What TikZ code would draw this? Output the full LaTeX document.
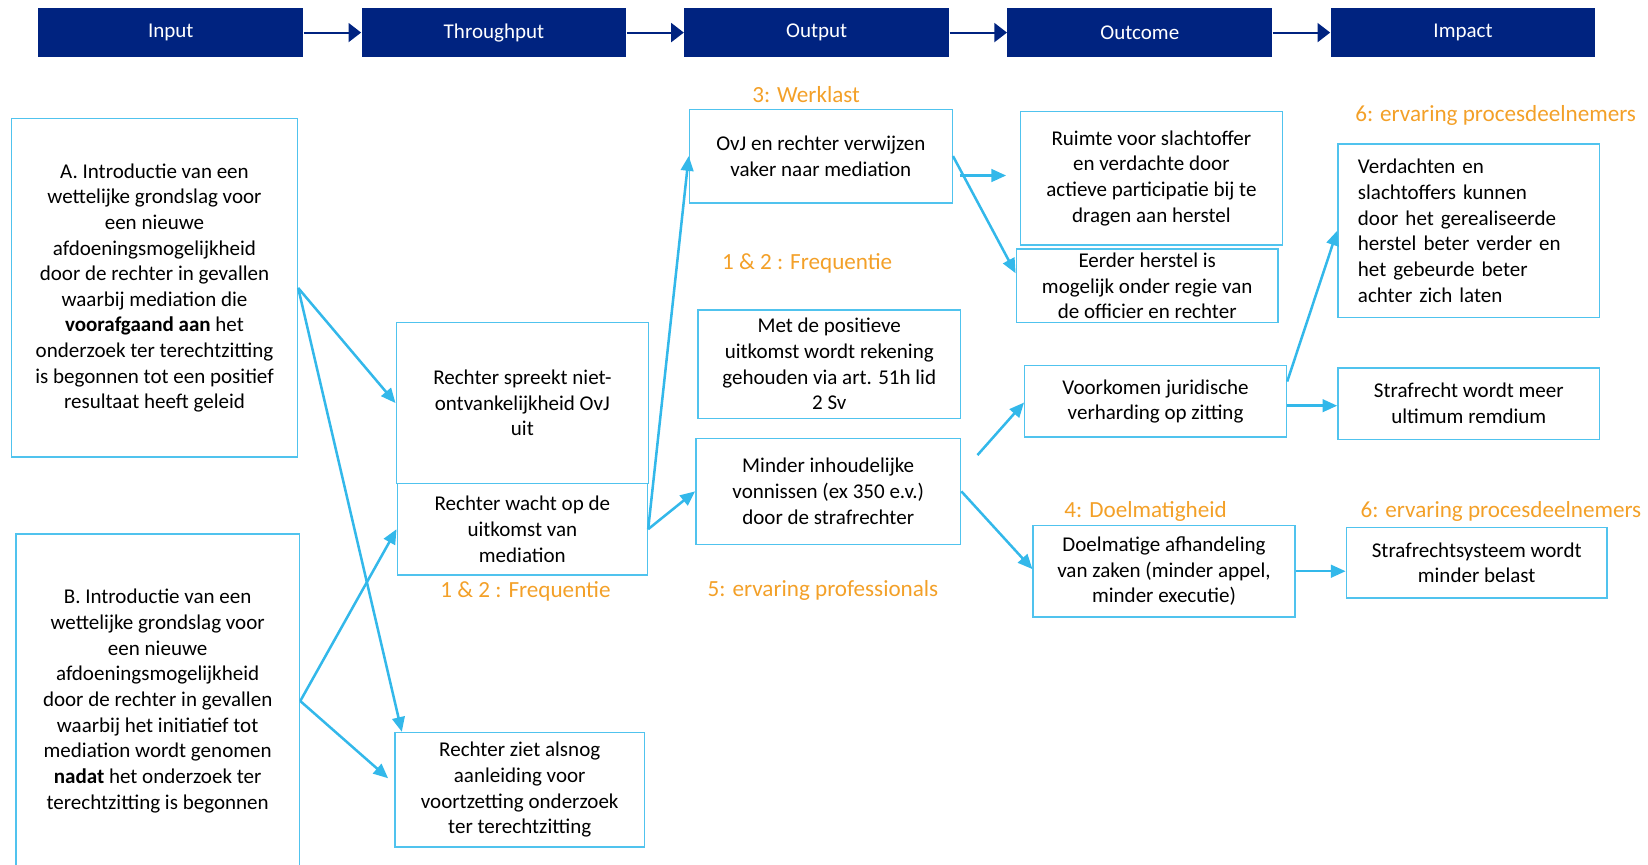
\documentclass[tikz,border=0pt]{standalone}
\usepackage{fontspec}
\setmainfont{Carlito}
\usetikzlibrary{arrows.meta,calc}
\definecolor{navy}{RGB}{0,35,128}
\definecolor{lblue}{RGB}{51,184,234}
\definecolor{bline}{RGB}{80,195,238}
\definecolor{orng}{RGB}{243,160,40}
\begin{document}
\begin{tikzpicture}[x=0.5pt,y=-0.5pt,
  hdr/.style={fill=navy, draw=none, text=white, minimum width=126pt, minimum height=23pt, inner sep=0pt, font=\fontsize{10}{12}\selectfont},
  bx/.style={draw=bline, line width=0.7pt, align=center, inner sep=0pt, fill=white, font=\fontsize{10}{12.2}\selectfont},
  lbl/.style={text=orng, inner sep=0pt, font=\fontsize{11}{13}\selectfont},
  conn/.style={draw=lblue, line width=1.2pt, -{Triangle[length=7pt,width=6pt]}},
  hconn/.style={draw=navy, line width=1pt, -{Triangle[length=6pt,width=9pt]}}]
\useasboundingbox (0,0) rectangle (1568,823);
% headers
\node[hdr] (hin) at (162.5,31) {Input};
\node[hdr] (hth) at (470,31) {Throughput};
\node[hdr] (hout) at (777,31) {Output};
\node[hdr] (hoc) at (1084.5,31) {Outcome};
\node[hdr] (him) at (1392,31) {Impact};
\draw[hconn] (hin) -- (hth);
\draw[hconn] (hth) -- (hout);
\draw[hconn] (hout) -- (hoc);
\draw[hconn] (hoc) -- (him);
% input
\node[bx, minimum width=136pt, minimum height=161pt] (A) at (147,274) {A. Introductie van een\\ wettelijke grondslag voor\\ een nieuwe\\ afdoeningsmogelijkheid\\ door de rechter in gevallen\\ waarbij mediation die\\ \textbf{voorafgaand aan} het\\ onderzoek ter terechtzitting\\ is begonnen tot een positief\\ resultaat heeft geleid};
\node[bx, minimum width=135pt, minimum height=159pt] (B) at (150,667) {B. Introductie van een\\ wettelijke grondslag voor\\ een nieuwe\\ afdoeningsmogelijkheid\\ door de rechter in gevallen\\ waarbij het initiatief tot\\ mediation wordt genomen\\ \textbf{nadat} het onderzoek ter\\ terechtzitting is begonnen};
% throughput
\node[bx, minimum width=120pt, minimum height=76.5pt] (spreekt) at (497,383.5) {Rechter spreekt niet-\\ ontvankelijkheid OvJ\\ uit};
\node[bx, minimum width=119pt, minimum height=43.5pt] (wacht) at (497,503.5) {Rechter wacht op de\\ uitkomst van\\ mediation};
\node[bx, minimum width=118.5pt, minimum height=54.5pt] (ziet) at (494.5,751.5) {Rechter ziet alsnog\\ aanleiding voor\\ voortzetting onderzoek\\ ter terechtzitting};
% output
\node[bx, minimum width=125pt, minimum height=44.5pt] (ovj) at (781,148.5) {OvJ en rechter verwijzen\\ vaker naar mediation};
\node[bx, minimum width=125pt, minimum height=51.5pt] (met) at (789,346.5) {Met de positieve\\ uitkomst wordt rekening\\ gehouden via art. 51h lid\\ 2 Sv};
\node[bx, minimum width=126pt, minimum height=50.5pt] (minder) at (788,467.5) {Minder inhoudelijke\\ vonnissen (ex 350 e.v.)\\ door de strafrechter};
% outcome
\node[bx, minimum width=124.5pt, minimum height=63.5pt] (ruimte) at (1095.5,169.5) {Ruimte voor slachtoffer\\ en verdachte door\\ actieve participatie bij te\\ dragen aan herstel};
\node[bx, minimum width=124.5pt, minimum height=35pt] (eerder) at (1091.5,272) {Eerder herstel is\\ mogelijk onder regie van\\ de officier en rechter};
\node[bx, minimum width=124.5pt, minimum height=34pt] (voork) at (1099.5,382) {Voorkomen juridische\\ verharding op zitting};
\node[bx, minimum width=124.5pt, minimum height=43.5pt] (doel) at (1107.5,543.5) {Doelmatige afhandeling\\ van zaken (minder appel,\\ minder executie)};
% impact
\node[bx, minimum height=82.5pt, align=left, text width=105.5pt, inner xsep=9.5pt] (verd) at (1397.5,219.5) {Verdachten en\\ slachtoffers kunnen\\ door het gerealiseerde\\ herstel beter verder en\\ het gebeurde beter\\ achter zich laten};
\node[bx, minimum width=124.5pt, minimum height=34pt] (straf) at (1397.5,384) {Strafrecht wordt meer\\ ultimum remdium};
\node[bx, minimum width=124pt, minimum height=33.5pt] (sys) at (1405,535.5) {Strafrechtsysteem wordt\\ minder belast};
% labels
\node[lbl] (l3) at (767,90) {3: Werklast};
\node[lbl] (l12a) at (768,251) {1 \& 2 : Frequentie};
\node[lbl] (l12b) at (500,563) {1 \& 2 : Frequentie};
\node[lbl] (l5) at (783,562) {5: ervaring professionals};
\node[lbl] (l4) at (1090,487) {4: Doelmatigheid};
\node[lbl] (l6a) at (1423,110) {6: ervaring procesdeelnemers};
\node[lbl] (l6b) at (1428,487) {6: ervaring procesdeelnemers};
% connectors
\draw[conn] (A.east) -- (spreekt.west);
\draw[conn] (A.east) -- ($(ziet.north west)+(7,0)$);
\draw[conn] (B.east) -- (wacht.west);
\draw[conn] (B.east) -- ($(ziet.west)+(-6,-11)$);
\draw[conn] (wacht.east) -- (ovj.west);
\draw[conn] (wacht.east) -- (minder.west);
\draw[conn] (ovj.east) -- ($(eerder.west)+(0,-12)$);
\coordinate (r0) at (913,167);
\draw[conn] (r0) -- ($(r0 -| ruimte.west)+(-13,0)$);
\coordinate (v0) at (930,433);
\draw[conn] (v0) -- ($(voork.west)+(0,1)$);
\draw[conn] (minder.east) -- ($(doel.west)+(0,-2)$);
\draw[conn] ($(voork.east)+(0,-19)$) -- (verd.west);
\coordinate (vs) at ($(voork.east)+(0,4)$);
\draw[conn] (vs) -- (vs -| straf.west);
\draw[conn] (doel.east) -- (doel.east -| sys.west);
\end{tikzpicture}
\end{document}
